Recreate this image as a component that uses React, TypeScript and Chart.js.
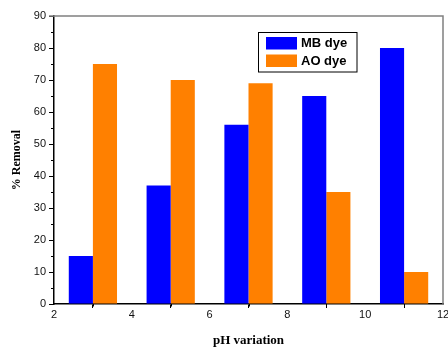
import React, { useEffect, useRef } from "react";
import { Chart, registerables } from "chart.js";

Chart.register(...registerables);

const phValues = [3, 5, 7, 9, 11];
const mbRemoval = [15, 37, 56, 65, 80];
const aoRemoval = [75, 70, 69, 35, 10];
const seriesLabels = ["MB dye", "AO dye"];
const seriesColors = ["#0000FF", "#FF8000"];
const xTitle = "pH variation";
const yTitle = "% Removal";
const yMinorTicks = [5, 15, 25, 35, 45, 55, 65, 75, 85];
const xMinorTicks = [3, 5, 7, 9, 11];

const SANS = "'Liberation Sans', Arial, sans-serif";
const SERIF = "'Liberation Serif', 'Times New Roman', serif";

const framePlugin = {
  id: "frameAndLegend",
  afterDraw(chart: any) {
    const { ctx, chartArea, scales } = chart;
    const { left, right, top, bottom } = chartArea;
    ctx.save();
    // minor ticks
    ctx.strokeStyle = "#000";
    ctx.lineWidth = 1;
    yMinorTicks.forEach((v) => {
      const y = Math.round(scales.y.getPixelForValue(v)) + 0.5;
      ctx.beginPath();
      ctx.moveTo(left - 3, y);
      ctx.lineTo(left, y);
      ctx.stroke();
    });
    xMinorTicks.forEach((v) => {
      const x = Math.round(scales.x.getPixelForValue(v)) + 0.5;
      ctx.beginPath();
      ctx.moveTo(x, bottom);
      ctx.lineTo(x, bottom + 2.5);
      ctx.stroke();
    });
    // top and right frame
    ctx.strokeStyle = "#808080";
    ctx.lineWidth = 1.5;
    ctx.beginPath();
    ctx.moveTo(left - 5, top);
    ctx.lineTo(right, top);
    ctx.lineTo(right, bottom);
    ctx.stroke();

    // legend box
    const bx = left + 204.5;
    const by = top + 16.5;
    const bw = 98.5;
    const bh = 39.5;
    ctx.fillStyle = "#fff";
    ctx.fillRect(bx, by, bw, bh);
    ctx.strokeStyle = "#000";
    ctx.lineWidth = 1;
    ctx.strokeRect(bx, by, bw, bh);
    ctx.font = `bold 13px ${SANS}`;
    ctx.textBaseline = "middle";
    ctx.textAlign = "left";
    seriesLabels.forEach((label, i) => {
      const sy = by + 4.5 + i * 17.5;
      ctx.fillStyle = seriesColors[i];
      ctx.fillRect(bx + 7.5, sy, 31, 12.5);
      ctx.fillStyle = "#000";
      ctx.fillText(label, bx + 42.5, sy + 6.5);
    });
    ctx.restore();
  },
};

export default function App() {
  const ref = useRef<HTMLCanvasElement | null>(null);

  useEffect(() => {
    document.body.style.margin = "0";
    const canvas = ref.current;
    if (!canvas) return;
    const chart = new Chart(canvas, {
      type: "bar",
      data: {
        datasets: [
          {
            label: seriesLabels[0],
            data: phValues.map((x, i) => ({ x, y: mbRemoval[i] })),
            backgroundColor: seriesColors[0],
            borderWidth: 0,
          },
          {
            label: seriesLabels[1],
            data: phValues.map((x, i) => ({ x, y: aoRemoval[i] })),
            backgroundColor: seriesColors[1],
            borderWidth: 0,
          },
        ],
      },
      options: {
        responsive: false,
        animation: false,
        categoryPercentage: 0.62,
        barPercentage: 1.0,
        layout: { padding: { top: 16, right: 5, left: 0, bottom: 0 } },
        plugins: {
          legend: { display: false },
          tooltip: { enabled: false },
        },
        scales: {
          x: {
            type: "linear",
            min: 2,
            max: 12,
            offset: false,
            ticks: {
              stepSize: 2,
              font: { family: SANS, size: 11 },
              color: "#111",
              padding: 0,
              maxRotation: 0,
            },
            grid: {
              drawOnChartArea: false,
              drawTicks: true,
              tickLength: 4,
              color: "#000",
              lineWidth: 1,
            },
            border: { color: "#000", width: 1.5 },
            title: {
              display: true,
              text: xTitle,
              font: { family: SERIF, size: 13, weight: "bold", lineHeight: 1.0 },
              color: "#000",
              padding: { top: 0, bottom: 0 },
            },
            afterFit(scale: any) {
              scale.height = 43;
              scale.paddingRight = 0;
              scale.paddingLeft = 0;
            },
          },
          y: {
            min: 0,
            max: 90,
            ticks: {
              stepSize: 10,
              font: { family: SANS, size: 11 },
              color: "#111",
              padding: 3,
            },
            grid: {
              drawOnChartArea: false,
              drawTicks: true,
              tickLength: 5,
              color: "#000",
              lineWidth: 1,
            },
            border: { color: "#000", width: 1.5 },
            title: {
              display: true,
              text: yTitle,
              font: { family: SERIF, size: 12, weight: "bold" },
              color: "#000",
              padding: { top: 10, bottom: 0 },
            },
            afterFit(scale: any) {
              scale.width = 54;
              scale.paddingTop = 0;
              scale.paddingBottom = 0;
            },
          },
        },
      } as any,
      plugins: [framePlugin],
    });
    return () => chart.destroy();
  }, []);

  return (
    <div style={{ width: 448, height: 347, background: "#fff" }}>
      <canvas ref={ref} width={448} height={347} />
    </div>
  );
}
